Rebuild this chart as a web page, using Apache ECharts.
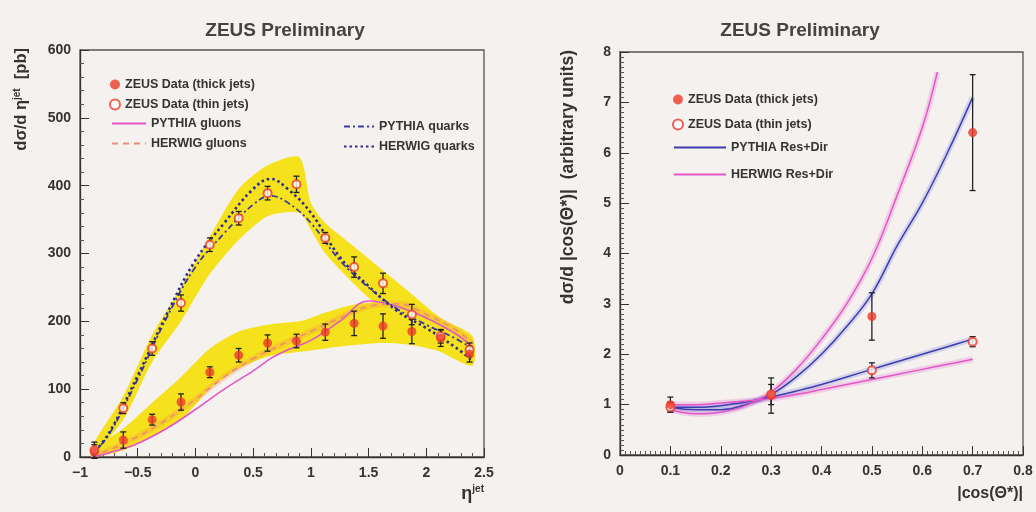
<!DOCTYPE html>
<html>
<head>
<meta charset="utf-8">
<script src="https://cdn.jsdelivr.net/npm/echarts@6/dist/echarts.min.js"></script>
<style>
  html, body { margin: 0; padding: 0; background: #f4f1ef; }
  #chart { width: 1036px; height: 512px; }
</style>
</head>
<body>
<div id="chart"></div>
<script>
// ---- left panel: d sigma / d eta(jet) ----
const etaBins = [-0.875, -0.625, -0.375, -0.125, 0.125, 0.375, 0.625, 0.875, 1.125, 1.375, 1.625, 1.875, 2.125, 2.375]
const thickEta = [8, 25, 55, 81, 125, 150, 168, 171, 184, 197, 193, 185, 175, 152]
const thickEtaErr = [10, 12, 8, 12, 8, 10, 12, 10, 12, 18, 18, 18, 12, 12]
const thinEta = [10, 72, 160, 227, 313, 352, 389, 402, 323, 280, 256, 210, 178, 158]
const thinEtaErr = [12, 8, 10, 12, 10, 10, 10, 12, 8, 15, 15, 15, 10, 10]

// systematic bands (yellow)
const bandEta = [-0.9, -0.625, -0.375, -0.125, 0.125, 0.375, 0.625, 0.9, 1.0, 1.125, 1.375, 1.625, 1.875, 2.125, 2.4]
const thinBandLow = [0, 55, 140, 200, 270, 320, 355, 360, 335, 300, 255, 215, 180, 155, 135]
const thinBandHigh = [15, 90, 180, 250, 325, 395, 430, 442, 375, 345, 310, 275, 240, 205, 178]
const thickBandLow = [0, 10, 30, 55, 100, 130, 148, 155, 157, 160, 165, 168, 165, 155, 135]
const thickBandHigh = [10, 42, 80, 118, 160, 185, 195, 200, 205, 213, 225, 228, 220, 200, 175]

// MC curves
const curveEta = [-0.9, -0.75, -0.5, -0.25, 0, 0.25, 0.5, 0.65, 0.8, 1.0, 1.25, 1.5, 1.75, 2.0, 2.25, 2.4]
const pythiaGluons = [0, 6, 20, 42, 70, 100, 127, 145, 158, 172, 200, 230, 222, 205, 182, 162]
const herwigGluons = [2, 10, 30, 55, 85, 118, 145, 158, 170, 185, 205, 222, 226, 210, 188, 168]
const pythiaQuarks = [3, 33, 115, 205, 280, 330, 372, 385, 375, 345, 290, 250, 218, 195, 175, 160]
const herwigQuarks = [3, 35, 120, 210, 290, 345, 395, 410, 395, 360, 295, 252, 215, 190, 162, 142]

// ---- right panel: d sigma / d |cos(theta*)| ----
const cosBins = [0.1, 0.3, 0.5, 0.7]
const thickCos = [1.0, 1.18, 2.75, 6.4]
const thickCosErr = [0.15, 0.35, 0.47, 1.15]
const thinCos = [0.95, 1.2, 1.68, 2.25]
const thinCosErr = [0.1, 0.2, 0.15, 0.1]

const cosGrid = [0.1, 0.15, 0.2, 0.25, 0.3, 0.35, 0.4, 0.45, 0.5, 0.55, 0.6, 0.65, 0.7]
const pythiaThick = [0.95, 0.9, 0.9, 1.0, 1.2, 1.55, 2.0, 2.55, 3.2, 4.15, 5.0, 6.0, 7.1]
const pythiaThin = [0.95, 0.95, 0.98, 1.05, 1.15, 1.27, 1.4, 1.55, 1.7, 1.85, 2.0, 2.15, 2.3]
const herwigThin = [1.0, 1.0, 1.03, 1.07, 1.12, 1.2, 1.3, 1.4, 1.5, 1.6, 1.7, 1.8, 1.9]
const cosGridH = [0.1, 0.15, 0.2, 0.25, 0.3, 0.35, 0.4, 0.45, 0.5, 0.55, 0.6, 0.63]
const herwigThick = [0.9, 0.82, 0.85, 0.98, 1.25, 1.7, 2.3, 3.0, 3.9, 5.15, 6.5, 7.6]

const FONT = 'Liberation Sans, Arial, sans-serif'
const RED = '#ec3b2b'
const YELLOW = '#f6e21c'
const BLUE = '#3a3aa6'
const PINK = '#e455c8'

function pairs(xs, ys) {
    return xs.map((x, i) => [x, ys[i]])
}

function lineSeries(name, xs, ys, axis, style) {
    return {
        type: 'line',
        name: name,
        xAxisIndex: axis,
        yAxisIndex: axis,
        data: pairs(xs, ys),
        smooth: 0.4,
        symbol: 'none',
        itemStyle: { color: style.color },
        lineStyle: style,
        z: 3
    }
}

// faint halo around a curve (the MC uncertainty)
function haloSeries(xs, ys, axis, color) {
    return {
        type: 'line',
        name: 'halo',
        xAxisIndex: axis,
        yAxisIndex: axis,
        data: pairs(xs, ys),
        smooth: 0.4,
        symbol: 'none',
        silent: true,
        lineStyle: { color: color, width: 6, opacity: 0.22 },
        z: 2
    }
}

function bandSeries(xs, lo, hi, axis, color) {
    return {
        type: 'custom',
        name: 'band',
        xAxisIndex: axis,
        yAxisIndex: axis,
        silent: true,
        clip: true,
        data: [0],
        z: 1,
        renderItem: function (params, api) {
            const pts = []
            for (let i = 0; i < xs.length; i++) pts.push(api.coord([xs[i], hi[i]]))
            for (let i = xs.length - 1; i >= 0; i--) pts.push(api.coord([xs[i], lo[i]]))
            return {
                type: 'polygon',
                shape: { points: pts, smooth: 0.25 },
                style: { fill: color }
            }
        }
    }
}

function errorSeries(name, xs, ys, errs, axis) {
    return {
        type: 'custom',
        name: name,
        xAxisIndex: axis,
        yAxisIndex: axis,
        silent: true,
        z: 4,
        encode: { x: 0, y: [1, 2] },
        data: xs.map((x, i) => [x, ys[i] - errs[i], ys[i] + errs[i]]),
        renderItem: function (params, api) {
            const lo = api.coord([api.value(0), api.value(1)])
            const hi = api.coord([api.value(0), api.value(2)])
            const st = { stroke: '#222', lineWidth: 1.3 }
            return {
                type: 'group',
                children: [
                    { type: 'line', shape: { x1: lo[0], y1: lo[1], x2: hi[0], y2: hi[1] }, style: st },
                    { type: 'line', shape: { x1: lo[0] - 3, y1: lo[1], x2: lo[0] + 3, y2: lo[1] }, style: st },
                    { type: 'line', shape: { x1: hi[0] - 3, y1: hi[1], x2: hi[0] + 3, y2: hi[1] }, style: st }
                ]
            }
        }
    }
}

function pointSeries(name, xs, ys, axis, filled) {
    return {
        type: 'scatter',
        name: name,
        xAxisIndex: axis,
        yAxisIndex: axis,
        data: pairs(xs, ys),
        symbol: filled ? 'circle' : 'emptyCircle',
        symbolSize: filled ? 9 : 8,
        itemStyle: filled ? { color: RED } : { color: RED, borderColor: '#e85a3c', borderWidth: 1.5 },
        z: 5
    }
}

function valueAxis(index, min, max, interval, minorSplit, fmt) {
    return {
        type: 'value',
        gridIndex: index,
        min: min,
        max: max,
        interval: interval,
        axisLine: { show: true, onZero: false, lineStyle: { color: '#333', width: 1.3 } },
        axisTick: { show: true, inside: true, length: 9, lineStyle: { color: '#333' } },
        minorTick: { show: true, splitNumber: minorSplit, length: 4, lineStyle: { color: '#555' } },
        splitLine: { show: false },
        axisLabel: {
            color: '#333', fontSize: 14, fontWeight: 'bold', fontFamily: FONT, margin: 9,
            formatter: fmt
        }
    }
}

const minusFmt = v => String(v).replace('-', '\u2212')

const legendText = { color: '#333', fontSize: 12.5, fontWeight: 'bold', fontFamily: FONT }
const noSymbol = { opacity: 0 }

const chart = echarts.init(document.getElementById('chart'))
chart.setOption({
    backgroundColor: '#f4f1ef',
    animation: false,
    title: [
        { text: 'ZEUS Preliminary', left: 280, top: 16, textAlign: 'center',
          textStyle: { fontSize: 19, fontWeight: 'bold', color: '#444', fontFamily: FONT } },
        { text: 'ZEUS Preliminary', left: 795, top: 16, textAlign: 'center',
          textStyle: { fontSize: 19, fontWeight: 'bold', color: '#444', fontFamily: FONT } }
    ],
    grid: [
        { left: 80, right: 552, top: 50, bottom: 55, show: true, borderColor: '#555', borderWidth: 1.3 },
        { left: 620, right: 13, top: 52, bottom: 57, show: true, borderColor: '#555', borderWidth: 1.3 }
    ],
    xAxis: [
        valueAxis(0, -1, 2.5, 0.5, 5, minusFmt),
        valueAxis(1, 0, 0.8, 0.1, 10)
    ],
    yAxis: [
        valueAxis(0, 0, 600, 100, 5),
        valueAxis(1, 0, 8, 1, 10)
    ],
    legend: [
        { left: 104, top: 73, orient: 'vertical', itemWidth: 10, itemHeight: 10, itemGap: 7,
          textStyle: legendText, data: ['ZEUS Data (thick jets)', 'ZEUS Data (thin jets)'] },
        { left: 106, top: 112, orient: 'vertical', itemWidth: 34, itemHeight: 10, itemGap: 7,
          itemStyle: noSymbol, textStyle: legendText, data: ['PYTHIA gluons', 'HERWIG gluons'] },
        { left: 338, top: 115, orient: 'vertical', itemWidth: 30, itemHeight: 10, itemGap: 7,
          itemStyle: noSymbol, textStyle: legendText, data: ['PYTHIA quarks', 'HERWIG quarks'] },
        { left: 667, top: 88, orient: 'vertical', itemWidth: 10, itemHeight: 10, itemGap: 12,
          textStyle: legendText, data: ['ZEUS Data (thick jets)', 'ZEUS Data (thin jets)'] },
        { left: 668, top: 136, orient: 'vertical', itemWidth: 52, itemHeight: 10, itemGap: 14,
          itemStyle: noSymbol, textStyle: legendText, data: ['PYTHIA Res+Dir', 'HERWIG Res+Dir'] }
    ],
    graphic: [
        { type: 'text', x: 21, y: 48, rotation: Math.PI / 2,
          style: { text: 'd\u03c3/d \u03b7{s|jet}  [pb]', align: 'right', verticalAlign: 'middle',
                   fill: '#333', font: 'bold 16.5px ' + FONT, rich: { s: { fontSize: 10, fontWeight: 'bold', padding: [0, 0, 8, 0] } } } },
        { type: 'text', x: 568, y: 50, rotation: Math.PI / 2,
          style: { text: 'd\u03c3/d |cos(\u0398*)|  (arbitrary units)', align: 'right', verticalAlign: 'middle',
                   fill: '#333', font: 'bold 17.5px ' + FONT } },
        { type: 'text', x: 484, y: 494,
          style: { text: '\u03b7{s|jet}', align: 'right', verticalAlign: 'middle',
                   fill: '#333', font: 'bold 18px ' + FONT, rich: { s: { fontSize: 10, fontWeight: 'bold', padding: [0, 0, 10, 0] } } } },
        { type: 'text', x: 1023, y: 494,
          style: { text: '|cos(\u0398*)|', align: 'right', verticalAlign: 'middle',
                   fill: '#333', font: 'bold 16px ' + FONT } }
    ],
    series: [
        // left panel
        bandSeries(bandEta, thinBandLow, thinBandHigh, 0, YELLOW),
        bandSeries(bandEta, thickBandLow, thickBandHigh, 0, YELLOW),
        haloSeries(curveEta, herwigGluons, 0, '#f07a50'),
        lineSeries('PYTHIA gluons', curveEta, pythiaGluons, 0, { color: PINK, width: 1.6 }),
        lineSeries('HERWIG gluons', curveEta, herwigGluons, 0, { color: '#f08a78', width: 1.6, type: [6, 5] }),
        lineSeries('PYTHIA quarks', curveEta, pythiaQuarks, 0, { color: BLUE, width: 1.8, type: [6, 3, 2, 3] }),
        lineSeries('HERWIG quarks', curveEta, herwigQuarks, 0, { color: '#2c2c90', width: 2.6, type: [2.5, 3] }),
        errorSeries('thin err', etaBins, thinEta, thinEtaErr, 0),
        errorSeries('thick err', etaBins, thickEta, thickEtaErr, 0),
        pointSeries('ZEUS Data (thin jets)', etaBins, thinEta, 0, false),
        pointSeries('ZEUS Data (thick jets)', etaBins, thickEta, 0, true),
        // right panel
        haloSeries(cosGrid, pythiaThick, 1, '#6a6ad8'),
        haloSeries(cosGrid, pythiaThin, 1, '#6a6ad8'),
        haloSeries(cosGridH, herwigThick, 1, PINK),
        haloSeries(cosGrid, herwigThin, 1, PINK),
        lineSeries('PYTHIA Res+Dir', cosGrid, pythiaThick, 1, { color: '#3c3cb0', width: 1.5 }),
        lineSeries('PYTHIA Res+Dir', cosGrid, pythiaThin, 1, { color: '#3c3cb0', width: 1.5 }),
        lineSeries('HERWIG Res+Dir', cosGridH, herwigThick, 1, { color: PINK, width: 1.5 }),
        lineSeries('HERWIG Res+Dir', cosGrid, herwigThin, 1, { color: PINK, width: 1.5 }),
        errorSeries('thin cos err', cosBins, thinCos, thinCosErr, 1),
        errorSeries('thick cos err', cosBins, thickCos, thickCosErr, 1),
        pointSeries('ZEUS Data (thin jets)', cosBins, thinCos, 1, false),
        pointSeries('ZEUS Data (thick jets)', cosBins, thickCos, 1, true)
    ]
})
</script>
</body>
</html>
